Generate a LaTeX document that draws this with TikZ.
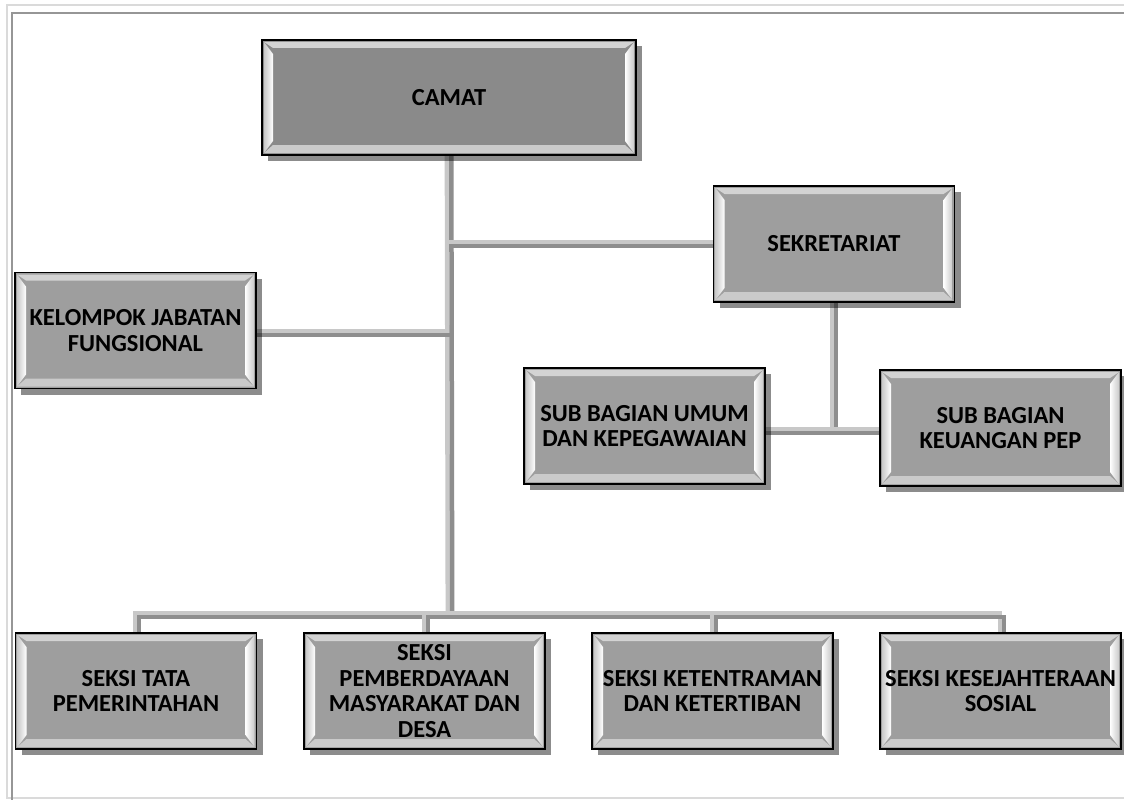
\documentclass[tikz,border=0pt]{standalone}
\usepackage{fontspec}
\setmainfont{Carlito}
\usepackage{tikz}
\usetikzlibrary{shadows}
\definecolor{unitfill}{RGB}{158,158,158}
\definecolor{headfill}{RGB}{138,138,138}
\definecolor{linklight}{RGB}{200,200,200}
\definecolor{linkdark}{RGB}{142,142,142}
\definecolor{framelight}{RGB}{218,218,218}
\definecolor{framedark}{RGB}{150,150,150}
% bevel faces inside each box
\newcommand{\unitbevel}{%
  \fill[white!55!unitfill] ([shift={(2pt,-2pt)}]path picture bounding box.north west)
    -- ([shift={(-2pt,-2pt)}]path picture bounding box.north east)
    -- ([shift={(-11pt,-8pt)}]path picture bounding box.north east)
    -- ([shift={(11pt,-8pt)}]path picture bounding box.north west) -- cycle;
  \fill[white!45!unitfill] ([shift={(2pt,2pt)}]path picture bounding box.south west)
    -- ([shift={(-2pt,2pt)}]path picture bounding box.south east)
    -- ([shift={(-11pt,10pt)}]path picture bounding box.south east)
    -- ([shift={(11pt,10pt)}]path picture bounding box.south west) -- cycle;
  \shade[left color=white!45!unitfill, right color=white] ([shift={(2pt,-2pt)}]path picture bounding box.north west)
    -- ([shift={(11pt,-14pt)}]path picture bounding box.north west)
    -- ([shift={(11pt,14pt)}]path picture bounding box.south west)
    -- ([shift={(2pt,2pt)}]path picture bounding box.south west) -- cycle;
  \shade[left color=white, right color=white!45!unitfill] ([shift={(-2pt,-2pt)}]path picture bounding box.north east)
    -- ([shift={(-11pt,-14pt)}]path picture bounding box.north east)
    -- ([shift={(-11pt,14pt)}]path picture bounding box.south east)
    -- ([shift={(-2pt,2pt)}]path picture bounding box.south east) -- cycle;
}
\newcommand{\orglink}[1]{\draw[linkhi] #1; \draw[linklo] #1;}
\tikzset{
  unit/.style={draw=black, line width=1.2pt, fill=unitfill, minimum width=241pt,
    minimum height=116pt, inner sep=0pt, align=center,
    font=\fontsize{24.5}{25.5}\selectfont\bfseries,
    drop shadow={shadow xshift=6pt, shadow yshift=-6pt, fill=black, opacity=0.45},
    path picture={\unitbevel}},
  headunit/.style={unit, fill=headfill, minimum width=374pt, minimum height=115pt},
  linkhi/.style={draw=linklight, line width=4.5pt, transform canvas={shift={(-2.2pt,2.2pt)}}},
  linklo/.style={draw=linkdark, line width=4.5pt, transform canvas={shift={(2.2pt,-2.2pt)}}},
}

\begin{document}
\begin{tikzpicture}[x=1pt,y=-1pt]
  \useasboundingbox (0,0) rectangle (1124,800);
  \fill[white] (0,0) rectangle (1124,800);
  \draw[framelight, line width=2pt] (1124,5) -- (7,5) -- (7,798) -- (1124,798);
  \draw[framedark, line width=2pt] (1124,13) -- (12,13) -- (12,800);

  \coordinate (hub) at (450,615);
  \coordinate (split) at (834,431);

  % connectors first, boxes on top
  \path (449,97.5) coordinate (camatpos);
  \orglink{(camatpos) -- (hub)}
  \orglink{(834,244) -- (834,244 -| hub)}
  \orglink{(135.5,333) -- (135.5,333 -| hub)}
  \orglink{(834,244) -- (split)}
  \orglink{(644.5,431) -- (1000.5,431)}
  \orglink{(137,691) -- (137,0 |- hub) -- (1002,0 |- hub) -- (1002,691)}
  \orglink{(426,691) -- (426,0 |- hub)}
  \orglink{(714,691) -- (714,0 |- hub)}

  \node[headunit] (camat) at (camatpos) {CAMAT};
  \node[unit] (sekretariat) at (834,244) {SEKRETARIAT};
  \node[unit] (kelompok) at (135.5,330.5) {KELOMPOK JABATAN\\FUNGSIONAL};
  \node[unit] (umum) at (644.5,426) {SUB BAGIAN UMUM\\DAN KEPEGAWAIAN};
  \node[unit] (keuangan) at (1000.5,428) {SUB BAGIAN\\KEUANGAN PEP};

  \node[unit] (tata) at (136,691) {SEKSI TATA\\PEMERINTAHAN};
  \node[unit] (pemberdayaan) at (424.5,691) {SEKSI\\PEMBERDAYAAN\\MASYARAKAT DAN\\DESA};
  \node[unit] (ketentraman) at (712.5,691) {SEKSI KETENTRAMAN\\DAN KETERTIBAN};
  \node[unit] (kesejahteraan) at (1000.5,691) {SEKSI KESEJAHTERAAN\\SOSIAL};
\end{tikzpicture}
\end{document}
